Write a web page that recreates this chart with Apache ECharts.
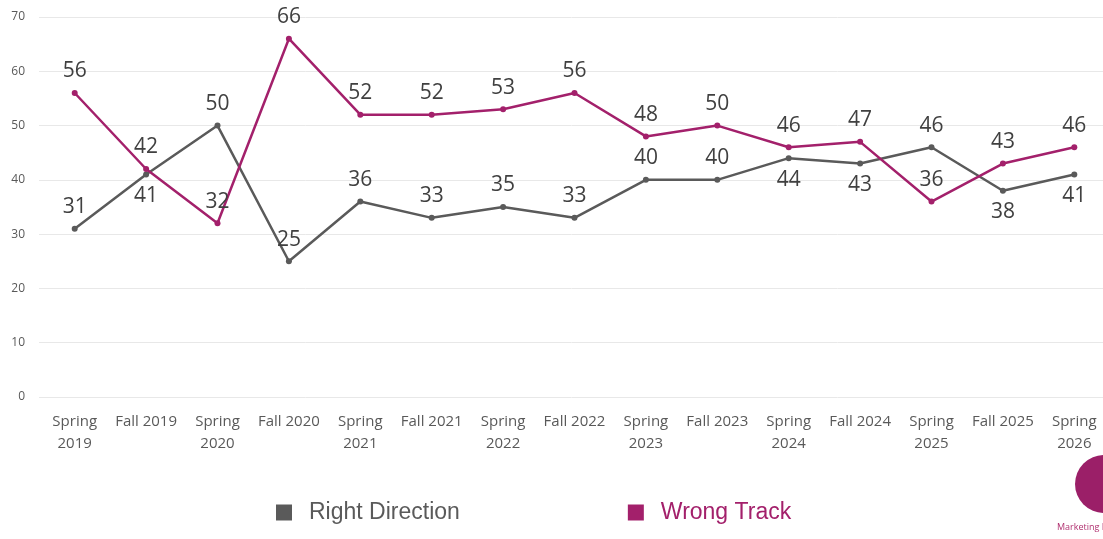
<!DOCTYPE html>
<html><head><meta charset="utf-8">
<script src="https://cdn.jsdelivr.net/npm/echarts@6/dist/echarts.min.js"></script>
<style>html,body{margin:0;padding:0;background:#fff}#c{width:1103px;height:539px}</style>
</head><body><div id="c"></div>
<script>
const categories = ['Spring\n2019','Fall 2019','Spring\n2020','Fall 2020','Spring\n2021','Fall 2021','Spring\n2022','Fall 2022','Spring\n2023','Fall 2023','Spring\n2024','Fall 2024','Spring\n2025','Fall 2025','Spring\n2026'];
const rightDirection = [31,41,50,25,36,33,35,33,40,40,44,43,46,38,41];
const wrongTrack = [56,42,32,66,52,52,53,56,48,50,46,47,36,43,46];
const rightLabelPos = ['top','bottom','top','top','top','top','top','top','top','top','bottom','bottom','top','bottom','bottom'];
const wrongLabelPos = ['top','top','top','top','top','top','top','top','top','top','top','top','top','top','top'];
const yTicks = [0,10,20,30,40,50,60,70];

const GRAY = '#5a5a5a', MAG = '#a3206b';
function mk(vals, pos){
  return vals.map((v,i)=>({value:v,label:{position:pos[i]}}));
}
const chart = echarts.init(document.getElementById('c'), null, {renderer:'canvas'});
chart.setOption({
  animation:false,
  grid:{left:39, right:-7, top:17, height:380, containLabel:false, outerBoundsMode:'none'},
  xAxis:{type:'category', data:categories, boundaryGap:true,
    axisLine:{show:false}, axisTick:{show:false},
    axisLabel:{color:'#595959', fontSize:15, fontFamily:'Open Sans', lineHeight:22, margin:14, interval:0}},
  yAxis:{type:'value', min:yTicks[0], max:yTicks[yTicks.length-1], interval:10,
    axisLine:{show:false}, axisTick:{show:false},
    axisLabel:{color:'#595959', fontSize:12, fontFamily:'Open Sans', margin:14},
    splitLine:{lineStyle:{color:'#e8e8e8', width:1}}},
  legend:{top:496, left:271, itemGap:168, itemWidth:16, itemHeight:16, icon:'rect',
    textStyle:{fontSize:23, fontFamily:'Liberation Sans', color:GRAY, padding:[0,0,0,12]},
    data:[{name:'Right Direction', textStyle:{color:GRAY}},{name:'Wrong Track', textStyle:{color:MAG}}]},
  series:[
    {name:'Right Direction', type:'line', data:mk(rightDirection,rightLabelPos), color:GRAY,
     lineStyle:{width:2.5, color:GRAY}, symbol:'circle', symbolSize:6, itemStyle:{color:GRAY},
     label:{show:true, fontSize:21, fontFamily:'Open Sans', color:'#404040', distance:8}},
    {name:'Wrong Track', type:'line', data:mk(wrongTrack,wrongLabelPos), color:MAG,
     lineStyle:{width:2.5, color:MAG}, symbol:'circle', symbolSize:6, itemStyle:{color:MAG},
     label:{show:true, fontSize:21, fontFamily:'Open Sans', color:'#404040', distance:8}}
  ],
  graphic:[
    {type:'circle', shape:{cx:1104, cy:484, r:29}, style:{fill:'#9b1f68'}},
    {type:'text', left:1057, top:523, style:{text:'Marketing P', fill:'#b0306f', font:'9px Open Sans'}}
  ]
});
</script></body></html>
